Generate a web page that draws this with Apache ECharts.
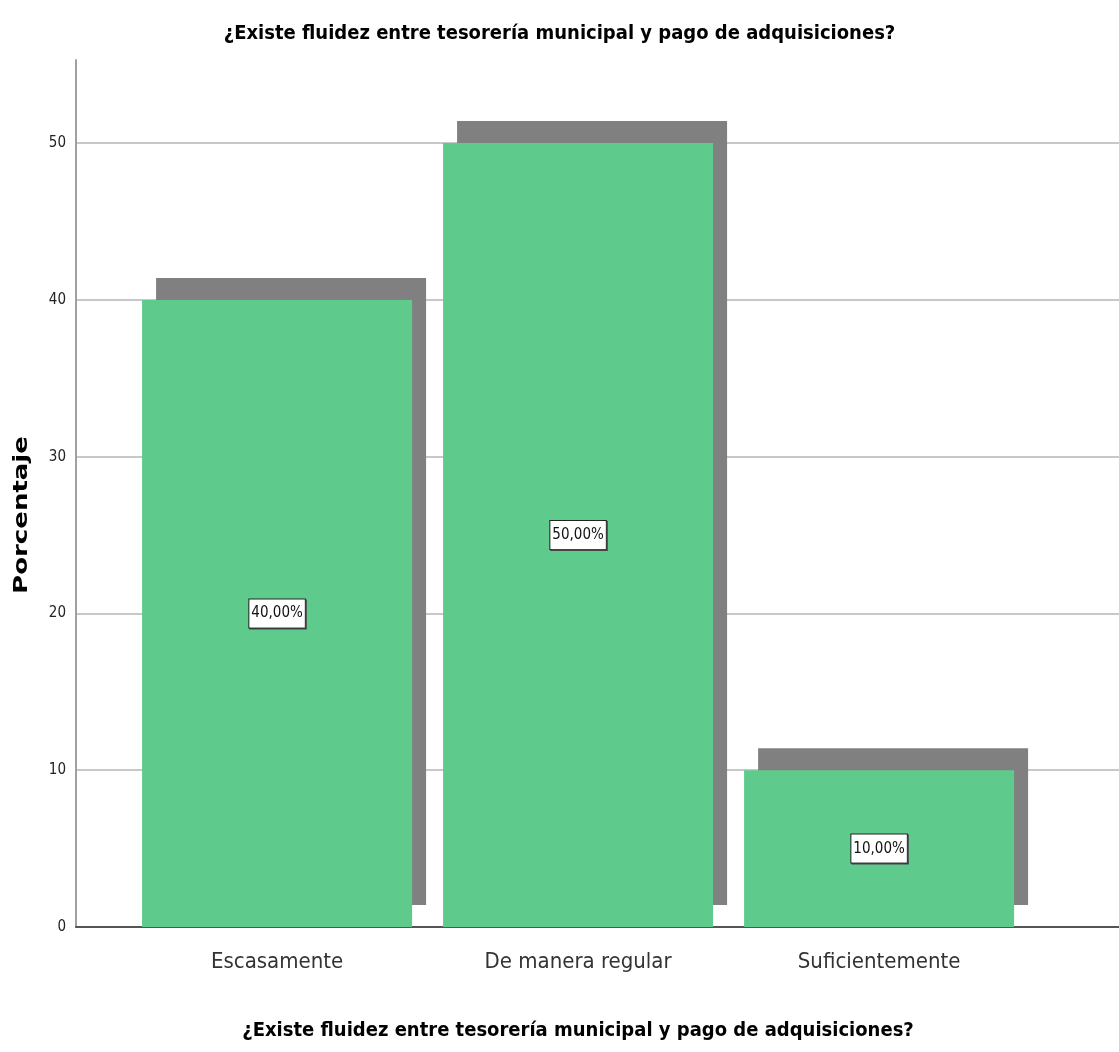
<!DOCTYPE html>
<html>
<head>
<meta charset="utf-8">
<script src="https://cdn.jsdelivr.net/npm/echarts@6/dist/echarts.min.js"></script>
<style>
  html, body { margin: 0; padding: 0; background: #fff; }
  #chart { width: 1119px; height: 1052px; }
</style>
</head>
<body>
<div id="chart"></div>
<script>
// Survey answers and their percentages
const categories = ['Escasamente', 'De manera regular', 'Suficientemente'];
const percentages = [40, 50, 10];
const yTicks = [0, 10, 20, 30, 40, 50];
const questionText = '¿Existe fluidez entre tesorería municipal y pago de adquisiciones?';
const yAxisTitle = 'Porcentaje';

const NARROW = "'Liberation Sans Narrow', 'DejaVu Sans Condensed', 'Liberation Sans', Arial, sans-serif";
const WIDE = "'DejaVu Sans', 'Liberation Sans', Arial, sans-serif";

const chart = echarts.init(document.getElementById('chart'), null, { renderer: 'canvas' });

const barData = percentages.map((v, i) => [i, v]);

chart.setOption({
  animation: false,
  backgroundColor: '#ffffff',
  title: {
    text: questionText,
    left: 'center',
    top: 19,
    textStyle: { fontFamily: NARROW, fontSize: 20, fontWeight: 'bold', color: '#000' }
  },
  grid: { left: 76, right: 0, top: 60, bottom: 125, containLabel: false },
  xAxis: {
    type: 'value',
    min: -0.668,
    max: 2.797,
    axisLine: { show: true, onZero: false, lineStyle: { color: '#555', width: 2 } },
    axisTick: { show: false },
    splitLine: { show: false },
    axisLabel: {
      customValues: [0, 1, 2],
      formatter: v => categories[Math.round(v)],
      fontFamily: NARROW,
      fontSize: 22,
      color: '#333',
      margin: 24
    }
  },
  yAxis: {
    type: 'value',
    min: 0,
    max: 55.3,
    interval: 10,
    axisLine: { show: true, onZero: false, lineStyle: { color: '#a0a0a0', width: 2 } },
    axisTick: { show: false },
    axisLabel: {
      customValues: yTicks,
      fontFamily: NARROW,
      fontSize: 15,
      color: '#222',
      margin: 10
    },
    splitLine: { show: true, showMaxLine: false, lineStyle: { color: '#c8c8c8', width: 2 } }
  },
  graphic: [
    {
      type: 'text',
      x: 22,
      y: 515,
      rotation: Math.PI / 2,
      scaleX: 1.3,
      style: {
        text: yAxisTitle,
        fontFamily: WIDE,
        fontSize: 20,
        fontWeight: 'bold',
        fill: '#000',
        align: 'center',
        verticalAlign: 'middle'
      }
    },
    {
      type: 'text',
      x: 578,
      y: 1031,
      style: {
        text: questionText,
        fontFamily: NARROW,
        fontSize: 20,
        fontWeight: 'bold',
        fill: '#000',
        align: 'center',
        verticalAlign: 'middle'
      }
    }
  ],
  series: [{
    type: 'bar',
    data: barData,
    barWidth: 270,
    itemStyle: {
      color: '#5ecb8c',
      shadowColor: '#808080',
      shadowBlur: 0,
      shadowOffsetX: 14,
      shadowOffsetY: -22
    },
    label: {
      show: true,
      position: 'inside',
      formatter: p => p.value[1].toFixed(2).replace('.', ',') + '%',
      fontFamily: NARROW,
      fontSize: 15,
      color: '#111',
      backgroundColor: '#ffffff',
      borderColor: '#222',
      borderWidth: 1,
      padding: [7, 2, 6, 2],
      shadowColor: '#444',
      shadowOffsetX: 1,
      shadowOffsetY: 1,
      shadowBlur: 0
    }
  }]
});
</script>
</body>
</html>
